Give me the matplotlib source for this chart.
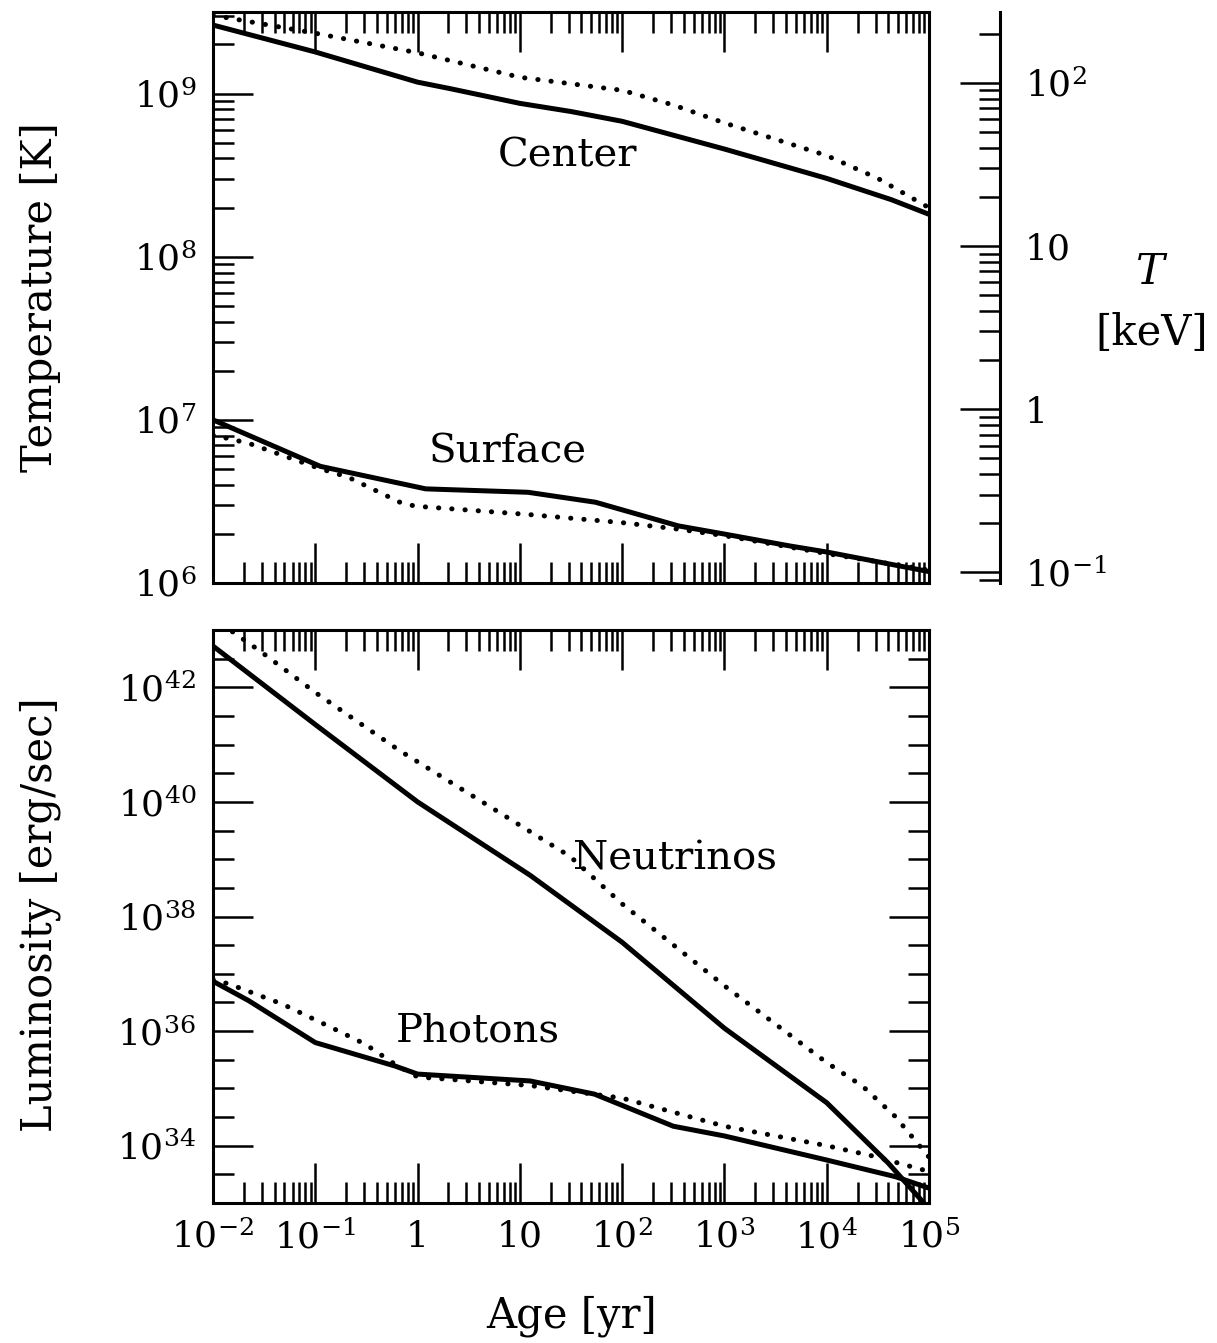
import numpy as np
import matplotlib
matplotlib.use("Agg")
import matplotlib.pyplot as plt
from matplotlib.ticker import LogLocator, FixedLocator, FuncFormatter, NullFormatter

plt.rcParams['font.family'] = ['DejaVu Serif']
plt.rcParams['mathtext.fontset'] = 'dejavuserif'

# log10(age / yr) and log10 of the quantity
center_solid_t = [-2, -1, 0, 0.32, 1, 1.5, 2, 3, 4, 4.63, 5]
center_solid_T = [9.42, 9.255, 9.07, 9.03, 8.94, 8.89, 8.83, 8.66, 8.48, 8.35, 8.26]
center_dot_t = [-2, -1, 0, 1, 2, 2.5, 3, 3.5, 4, 4.5, 5]
center_dot_T = [9.48, 9.37, 9.25, 9.10, 9.02, 8.93, 8.82, 8.72, 8.62, 8.48, 8.30]

surf_solid_t = [-2, -0.95, 0.08, 1.08, 1.74, 2.55, 3.0, 3.64, 4.0, 5.0]
surf_solid_T = [7.0, 6.715, 6.577, 6.556, 6.495, 6.35, 6.30, 6.227, 6.19, 6.07]
surf_dot_t = [-2, -1.65, -0.95, -0.68, -0.14, 0.0, 1.08, 2.0, 2.55, 3.0, 4.0, 5.0]
surf_dot_T = [6.907, 6.856, 6.70, 6.649, 6.485, 6.47, 6.42, 6.37, 6.33, 6.29, 6.18, 6.08]

nu_solid_t = [-2, -1, 0, 1.1, 2, 3, 4, 4.6, 4.95]
nu_solid_L = [42.72, 41.35, 40.0, 38.72, 37.55, 36.05, 34.75, 33.7, 33.0]
nu_dot_t = [-1.81, -1.53, -1.0, -0.18, 1.49, 2, 3, 4, 4.35, 4.67, 5]
nu_dot_L = [42.97, 42.62, 41.91, 40.9, 39.05, 38.22, 36.79, 35.45, 35.04, 34.51, 33.8]

ph_solid_t = [-2, -1.65, -1.0, -0.22, 0, 1.1, 1.73, 2.5, 3, 4, 4.67, 5]
ph_solid_L = [36.87, 36.53, 35.80, 35.39, 35.25, 35.13, 34.9, 34.34, 34.17, 33.75, 33.46, 33.26]
ph_dot_t = [-2, -1.84, -1.32, -0.84, -0.51, -0.22, 0, 1.1, 2, 3, 4, 4.45, 5]
ph_dot_L = [36.9, 36.82, 36.47, 36.06, 35.77, 35.42, 35.2, 35.05, 34.83, 34.34, 34.0, 33.82, 33.55]

K_PER_KEV = 1.1605e7
px = 72 / 100.0
lw_ax = 2.2
dot_style = (0, (0.05, 2.6))
W, H = 1217, 1343


def xfmt(v, pos):
    e = int(round(np.log10(v)))
    if e == 0:
        return "1"
    if e == 1:
        return "10"
    return r"$10^{%d}$" % e


def yfmt(v, pos):
    e = int(round(np.log10(v)))
    return r"$10^{%d}$" % e


def style(ax):
    for s in ax.spines.values():
        s.set_linewidth(lw_ax)
    ax.tick_params(which='both', direction='in', top=True, right=True,
                   width=1.8, labelsize=26)
    ax.tick_params(which='major', length=40 * px)
    ax.tick_params(which='minor', length=21 * px)
    ax.set_xscale('log')
    ax.set_xlim(1e-2, 1e5)
    ax.xaxis.set_major_locator(LogLocator(base=10, numticks=20))
    ax.xaxis.set_minor_locator(LogLocator(base=10, subs=np.arange(2, 10), numticks=20))
    ax.xaxis.set_minor_formatter(NullFormatter())


def dots(ax, t, v):
    ax.plot(10 ** np.array(t), 10 ** np.array(v), 'k', lw=3.6,
            linestyle=dot_style, dash_capstyle='round')


def solid(ax, t, v):
    ax.plot(10 ** np.array(t), 10 ** np.array(v), 'k-', lw=3.6)


fig = plt.figure(figsize=(W / 100, H / 100), dpi=100)

# top: temperatures
ax1 = fig.add_axes([213 / W, 1 - 583 / H, 716 / W, 571 / H])
style(ax1)
ax1.set_yscale('log')
ax1.set_ylim(1e6, 10 ** 9.5)
ax1.yaxis.set_major_locator(LogLocator(base=10, numticks=20))
ax1.yaxis.set_minor_locator(LogLocator(base=10, subs=np.arange(2, 10), numticks=20))
ax1.yaxis.set_major_formatter(FuncFormatter(yfmt))
ax1.yaxis.set_minor_formatter(NullFormatter())
ax1.xaxis.set_major_formatter(NullFormatter())
ax1.tick_params(axis='y', pad=12)

solid(ax1, center_solid_t, center_solid_T)
dots(ax1, center_dot_t, center_dot_T)
solid(ax1, surf_solid_t, surf_solid_T)
dots(ax1, surf_dot_t, surf_dot_T)
ax1.text(10 ** 1.47, 10 ** 8.62, "Center", fontsize=29, ha='center', va='center')
ax1.text(10 ** 0.88, 10 ** 6.80, "Surface", fontsize=29, ha='center', va='center')

# keV scale on the right
ax2 = ax1.twinx()
ax2.set_yscale('log')
ax2.set_ylim(1e6 / K_PER_KEV, 10 ** 9.5 / K_PER_KEV)
for k in ['left', 'top', 'bottom']:
    ax2.spines[k].set_visible(False)
ax2.spines['right'].set_position(('outward', 71 * px))
ax2.spines['right'].set_linewidth(lw_ax)
ax2.yaxis.set_major_locator(FixedLocator([0.1, 1, 10, 100]))
ax2.yaxis.set_minor_locator(LogLocator(base=10, subs=np.arange(2, 10), numticks=20))
ax2.yaxis.set_minor_formatter(NullFormatter())
ax2.yaxis.set_major_formatter(FuncFormatter(
    lambda v, p: {0.1: r"$10^{-1}$", 1: "1", 10: "10", 100: r"$10^{2}$"}.get(round(v, 3), "")))
ax2.tick_params(which='both', direction='in', width=1.8, labelsize=26, pad=18)
ax2.tick_params(which='major', length=40 * px)
ax2.tick_params(which='minor', length=21 * px)
fig.text(1152 / W, 1 - 272 / H, "$T$", fontsize=31, ha='center', va='center')
fig.text(1152 / W, 1 - 333 / H, "[keV]", fontsize=30, ha='center', va='center')

# bottom: luminosities
ax3 = fig.add_axes([213 / W, 1 - 1203 / H, 716 / W, 573 / H])
style(ax3)
ax3.set_yscale('log')
ax3.set_ylim(1e33, 1e43)
ax3.yaxis.set_major_locator(FixedLocator(10.0 ** np.arange(34, 43, 2)))
ax3.yaxis.set_minor_locator(FixedLocator(
    [10.0 ** e for e in np.arange(33, 43.01, 0.5) if e % 2 != 0]))
ax3.yaxis.set_major_formatter(FuncFormatter(yfmt))
ax3.yaxis.set_minor_formatter(NullFormatter())
ax3.xaxis.set_major_formatter(FuncFormatter(xfmt))
ax3.tick_params(axis='y', pad=12)
ax3.tick_params(axis='x', pad=12)

solid(ax3, nu_solid_t, nu_solid_L)
dots(ax3, nu_dot_t, nu_dot_L)
solid(ax3, ph_solid_t, ph_solid_L)
dots(ax3, ph_dot_t, ph_dot_L)
ax3.text(10 ** 2.52, 10 ** 39.0, "Neutrinos", fontsize=29, ha='center', va='center')
ax3.text(10 ** 0.59, 10 ** 36.0, "Photons", fontsize=29, ha='center', va='center')

# axis titles
fig.text(40 / W, 1 - 297 / H, "Temperature [K]", fontsize=30, rotation=90,
         ha='center', va='center')
fig.text(40 / W, 1 - 915 / H, "Luminosity [erg/sec]", fontsize=30, rotation=90,
         ha='center', va='center')
fig.text(572 / W, 1 - 1316 / H, "Age [yr]", fontsize=30, ha='center', va='center')

fig.savefig("out.png", dpi=100)
